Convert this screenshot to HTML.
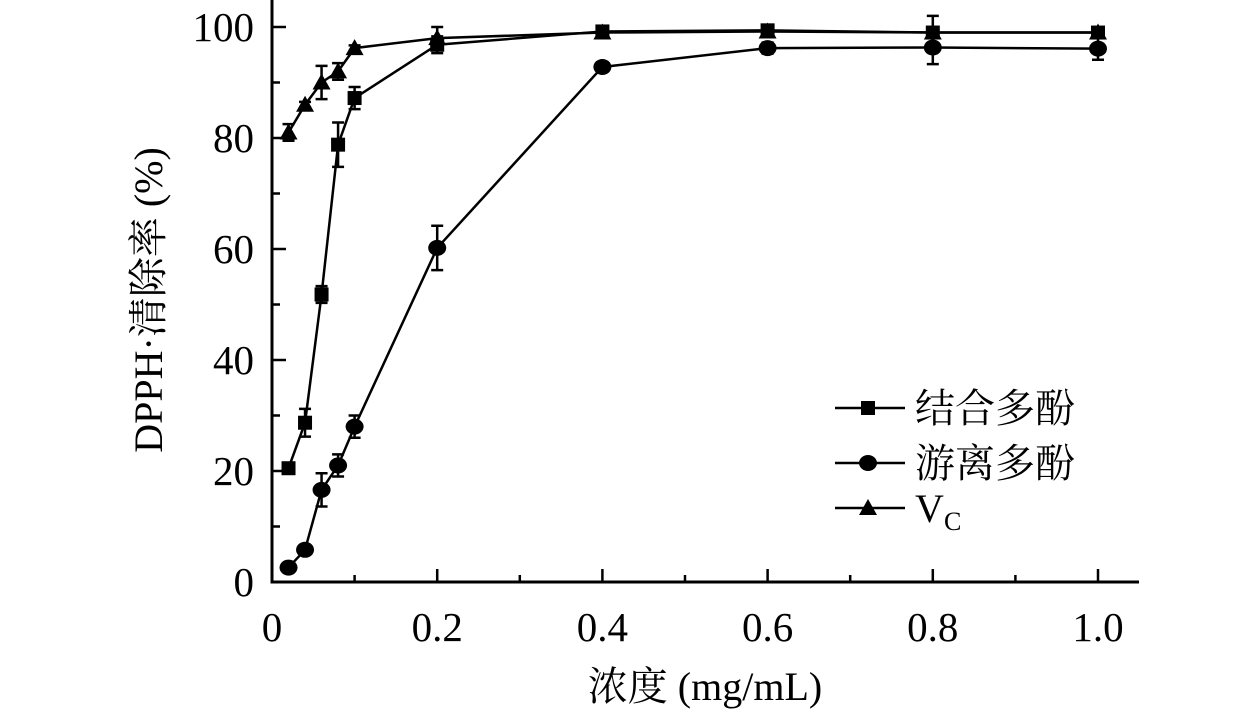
<!DOCTYPE html>
<html><head><meta charset="utf-8"><style>
body{margin:0;background:#fff}
svg text{font-family:"Liberation Serif","Noto Serif CJK SC",serif;fill:#000}
</style></head><body>
<svg id="c" width="1260" height="713"></svg>
<script>
const xs=[0.02,0.04,0.06,0.08,0.1,0.2,0.4,0.6,0.8,1.0];
const bound=[20.5,28.7,51.8,78.8,87.2,96.8,99.2,99.4,99.0,99.0];
const boundErr=[0.5,2.5,1.5,4,2,1.5,0.8,0.8,1,0.8];
const free=[2.6,5.8,16.6,21,28,60.2,92.8,96.2,96.3,96.1];
const freeErr=[0.5,0.5,3,2,2,4,0.8,1,3,2];
const vc=[81,86,90,92,96.2,98,99,99.2,99,99];
const vcErr=[1.5,0.5,3,1.5,0.5,2,0.5,0.5,3,0.5];
const xTicks=[0,0.2,0.4,0.6,0.8,1.0];
const xTickLabels=["0","0.2","0.4","0.6","0.8","1.0"];
const yTicks=[0,20,40,60,80,100];
const X=v=>272+v*826, Y=v=>582-v*5.55;
const svg=document.getElementById('c');const NS='http://www.w3.org/2000/svg';
function el(t,a,p){const e=document.createElementNS(NS,t);for(const k in a)e.setAttribute(k,a[k]);(p||svg).appendChild(e);return e;}
let e;
e=el('path',{d:`M272 0V582H1139`,fill:'none',stroke:'#000','stroke-width':3});


for(let v=0;v<=105;v+=10){e=el('line',{x1:272,x2:v%20==0?286:280,y1:Y(v),y2:Y(v),stroke:'#000','stroke-width':2.5});}
yTicks.forEach(v=>{e=el('text',{x:254,y:Y(v)+14,'font-size':41,'text-anchor':'end'});e.textContent=v;

});
for(let i=1;i<=10;i++){const v=i/10;el('line',{x1:X(v),x2:X(v),y1:582,y2:i%2==0?569:575,stroke:'#000','stroke-width':2.5});}
xTicks.forEach((v,i)=>{e=el('text',{x:X(v),y:641,'font-size':41,'text-anchor':'middle'});e.textContent=xTickLabels[i];

});
e=el('text',{x:705,y:700,'font-size':40,'text-anchor':'middle'});e.textContent='浓度 (mg/mL)';


e=el('text',{x:0,y:0,'font-size':40,'text-anchor':'middle',transform:'translate(162,300) rotate(-90)'});e.textContent='DPPH·清除率 (%)';


function marker(type,cx,cy,g){
 if(type==='sq')return el('rect',{x:cx-7,y:cy-7,width:14,height:14,fill:'#000'},g);
 if(type==='ci')return el('ellipse',{cx:cx,cy:cy,rx:9,ry:8,fill:'#000'},g);
 return el('polygon',{points:`${cx},${cy-9} ${cx-9},${cy+7} ${cx+9},${cy+7}`,fill:'#000'},g);
}
function series(vals,errs,type,name){
 const g=el('g',{});
 
 
 el('polyline',{points:vals.map((v,i)=>X(xs[i])+','+Y(v)).join(' '),fill:'none',stroke:'#000','stroke-width':2.5},g);
 vals.forEach((v,i)=>{const x=X(xs[i]);
  el('path',{d:`M${x} ${Y(v-errs[i])}V${Y(v+errs[i])}M${x-6} ${Y(v-errs[i])}H${x+6}M${x-6} ${Y(v+errs[i])}H${x+6}`,stroke:'#000','stroke-width':2.5,fill:'none'},g);
  marker(type,x,Y(v),g);});
}
series(free,freeErr,'ci','series-free-polyphenol');
series(bound,boundErr,'sq','series-bound-polyphenol');
series(vc,vcErr,'tr','series-vc');
const leg=[['sq','结合多酚',408],['ci','游离多酚',463],['tr','V',508]];
leg.forEach(([t,l,y])=>{const g=el('g',{});
 
 
 el('line',{x1:835,x2:905,y1:y,y2:y,stroke:'#000','stroke-width':2.5},g);
 marker(t,868,y,g);
 const tx=el('text',{x:915,y:y+14,'font-size':40},g);tx.textContent=l;
 if(l==='V'){const s=el('text',{x:944,y:y+22,'font-size':26},g);s.textContent='C';}
});
</script>
</body></html>
